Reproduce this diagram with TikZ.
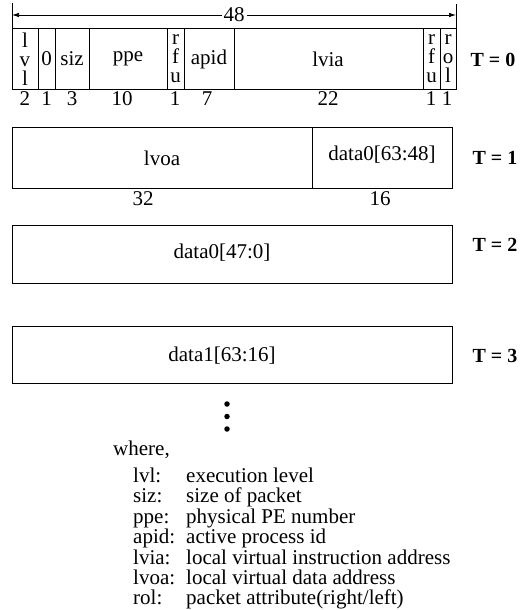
\documentclass[tikz,border=0pt]{standalone}
\usepackage{fontspec}
\setmainfont{Liberation Serif}
\usetikzlibrary{arrows.meta,positioning}

\begin{document}
\begin{tikzpicture}[x=1pt,y=-1pt,
 cell/.style={draw=black,line width=1pt},
 lab/.style={font=\fontsize{21}{21}\selectfont,inner sep=0pt},
 key/.style={lab,anchor=west,text height=12pt,text depth=3pt},
 stack/.style={lab,align=center,font=\fontsize{21}{19}\selectfont},
 tag/.style={font=\fontsize{20}{20}\selectfont\bfseries,inner sep=0pt},
 dim/.style={draw=black,line width=0.7pt},
 dot/.style={circle,fill=black,inner sep=0pt,minimum size=5.5pt}]
\useasboundingbox (0,0) rectangle (528,610);
% width marker
\coordinate (tl) at (12,3);
\coordinate (tr) at (456,4);
\coordinate (al) at (12,15);
\coordinate (ar) at (456,15);
\coordinate (bl) at (12,29);
\coordinate (br) at (456,29);
\draw[dim] (tl) -- (bl);
\draw[dim] (tr) -- (br);
\draw[dim,{Latex[length=7pt,width=4.5pt]}-{Latex[length=7pt,width=4.5pt]}] (al) -- (ar);
\node[lab,fill=white,inner xsep=2pt] (w48) at (234,15) {48};
% T = 0
\draw[cell] (12,29) rectangle (456,89);
\draw[cell] (38,29) -- (38,89);
\draw[cell] (55,29) -- (55,89);
\draw[cell] (89,29) -- (89,89);
\draw[cell] (167,29) -- (167,89);
\draw[cell] (184,29) -- (184,89);
\draw[cell] (234,29) -- (234,89);
\draw[cell] (423,29) -- (423,89);
\draw[cell] (440,29) -- (440,89);
\node[stack] (lvl) at (25,59) {l\\v\\l};
\node[lab] (zero) at (46.5,59) {0};
\node[lab] (siz) at (72,59) {siz};
\node[lab] (ppe) at (128,59) {ppe};
\node[stack] (rfu) at (175.5,59) {r\\f\\u};
\node[lab] (apid) at (209,59) {apid};
\node[lab] (lvia) at (328,59) {lvia};
\node[stack] (rfu2) at (431.5,59) {r\\f\\u};
\node[stack] (rol) at (448,59) {r\\o\\l};
\node[tag] (t0) at (493,60) {T = 0};
\node[lab] (n2) at (25,99) {2};
\node[lab] (n1a) at (46.5,99) {1};
\node[lab] (n3) at (72,99) {3};
\node[lab] (n10) at (122,99) {10};
\node[lab] (n1b) at (175,99) {1};
\node[lab] (n7) at (207,99) {7};
\node[lab] (n22) at (328,99) {22};
\node[lab] (n1c) at (431,99) {1};
\node[lab] (n1d) at (447,99) {1};
% T = 1
\draw[cell] (12,127) rectangle (452,188);
\draw[cell] (312,127) -- (312,188);
\node[lab] (lvoa) at (162,158) {lvoa};
\node[lab] (d0hi) at (382,155) {data0[63:48]};
\node[tag] (t1) at (495,158) {T = 1};
\node[lab] (n32) at (143,199) {32};
\node[lab] (n16) at (380,199) {16};
% T = 2
\draw[cell] (12,225) rectangle (452,283);
\node[lab] (d0lo) at (222,253) {data0[47:0]};
\node[tag] (t2) at (495,245) {T = 2};
% T = 3
\draw[cell] (12,326) rectangle (452,383);
\node[lab] (d1hi) at (222,356) {data1[63:16]};
\node[tag] (t3) at (495,356) {T = 3};
% continuation
\node[dot] (c1) at (227,404) {};
\node[dot] (c2) at (227,416.5) {};
\node[dot] (c3) at (227,429) {};
% legend
\node[key] (where) at (113,451) {where,};
\node[key] (k1) at (133,478) {lvl:};
\node[key] (k2) at (133,498.4) {siz:};
\node[key] (k3) at (133,518.8) {ppe:};
\node[key] (k4) at (133,539.2) {apid:};
\node[key] (k5) at (133,559.6) {lvia:};
\node[key] (k6) at (133,580) {lvoa:};
\node[key] (k7) at (133,600.4) {rol:};
\node[key] (v1) at (186,478) {execution level};
\node[key] (v2) at (186,498.4) {size of packet};
\node[key] (v3) at (186,518.8) {physical PE number};
\node[key] (v4) at (186,539.2) {active process id};
\node[key] (v5) at (186,559.6) {local virtual instruction address};
\node[key] (v6) at (186,580) {local virtual data address};
\node[key] (v7) at (186,600.4) {packet attribute(right/left)};
\end{tikzpicture}
\end{document}
